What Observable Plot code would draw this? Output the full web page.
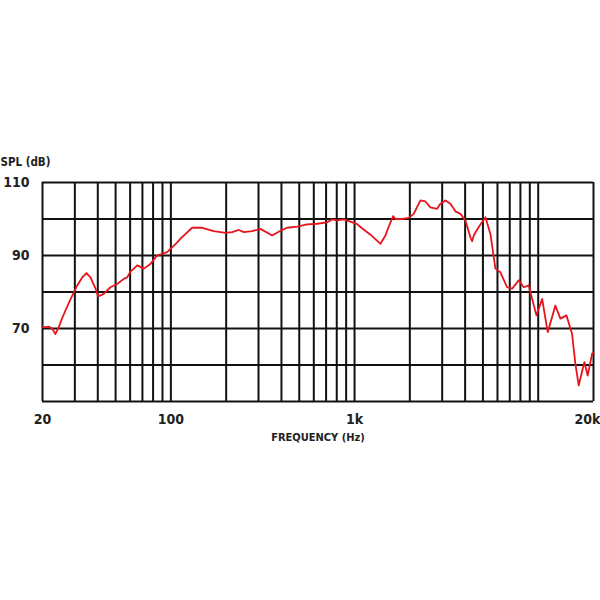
<!DOCTYPE html>
<html><head><meta charset="utf-8">
<script src="https://cdn.jsdelivr.net/npm/d3@7"></script>
<script src="https://cdn.jsdelivr.net/npm/@observablehq/plot@0.6"></script>
<style>body{margin:0;background:#fff}</style>
</head><body><div id="chart"></div>
<script>
const freq = [20, 21.7, 22.6, 23.5, 24.5, 25.3, 26.7, 28.4, 30.9, 32.9, 34.7, 36.5, 38.9, 40.2, 43.1, 46.9, 51.0, 55.4, 57.8, 60.3, 65.6, 71.2, 77.4, 84.2, 95.5, 99.5, 108.3, 112.8, 130.6, 148.1, 171.2, 198.3, 215.7, 234.3, 249.4, 277, 307.5, 356.1, 395.1, 429.7, 487.1, 552.1, 626, 709.5, 755.2, 804, 873.4, 950, 1033, 1077, 1221, 1384, 1473, 1569, 1622, 1670, 1816, 1972, 2099, 2284, 2431, 2589, 2816, 2935, 3125, 3327, 3542, 3772, 4016, 4275, 4368, 4456, 4745, 5159, 5493, 5848, 6226, 6772, 7211, 7831, 8337, 8877, 9778, 10504, 11265, 12404, 13207, 14240, 15290, 15937, 16612, 17843, 18596, 19652, 20000];
const spl = [70.3, 70.5, 69.9, 68.5, 70.3, 72.2, 75, 78, 81.8, 84, 85.2, 84, 80.9, 78.8, 79.5, 81.3, 82.2, 83.6, 84, 85.6, 87.3, 86.4, 87.7, 90, 90.9, 91.8, 93.6, 94.6, 97.6, 97.6, 96.7, 96.2, 96.4, 97, 96.4, 96.7, 97.3, 95.5, 96.8, 97.6, 97.9, 98.5, 98.7, 99.1, 99.9, 99.6, 99.9, 99.3, 98.6, 97.8, 95.7, 93.2, 95.5, 99.1, 100.8, 100, 100, 100.3, 101.4, 105.1, 104.8, 103.2, 102.8, 104.2, 105.1, 104.2, 102.1, 101.4, 99.6, 95, 93.9, 95.5, 97.8, 100.5, 95.9, 86.4, 85.4, 81.3, 80.9, 83.2, 81.3, 81.8, 73.6, 78.1, 69, 76.3, 72.7, 73.6, 68.5, 60.3, 54.4, 60.8, 57.1, 63.1, 63.5];
const xGrid = [20, 30, 40, 50, 60, 70, 80, 90, 100, 200, 300, 400, 500, 600, 700, 800, 900, 1000, 2000, 3000, 4000, 5000, 6000, 7000, 8000, 9000, 10000, 20000];
const yGrid = [50, 60, 70, 80, 90, 100, 110];
const xTicks = [20, 100, 1000];
const xTickEnd = [20000];
const yTicks = [70, 90, 110];
const xTitle = ["FREQUENCY (Hz)"];
const yTitle = ["SPL (dB)"];

const data = freq.map((f, i) => ({f, db: spl[i]}));
const font = "'DejaVu Sans Condensed','Liberation Sans Narrow',sans-serif";
const fmt = d => d >= 1000 ? (d / 1000) + "k" : String(d);

const chart = Plot.plot({
  width: 600, height: 600,
  marginTop: 182, marginBottom: 199, marginLeft: 42, marginRight: 7,
  style: {fontFamily: font, fontSize: "14px", fontWeight: "bold", color: "#222", background: "#fff"},
  x: {type: "log", domain: [20, 20000]},
  y: {domain: [50, 110]},
  marks: [
    Plot.ruleX(xGrid, {stroke: "#111", strokeWidth: 2}),
    Plot.ruleY(yGrid, {stroke: "#111", strokeWidth: 2}),
    Plot.line(data, {x: "f", y: "db", stroke: "#e8141c", strokeWidth: 1.8}),
    Plot.axisX(xTicks, {tickSize: 0, tickPadding: 13, tickFormat: fmt, label: null, fontSize: 14}),
    Plot.axisX(xTickEnd, {tickSize: 0, tickPadding: 13, tickFormat: fmt, label: null, fontSize: 14, textAnchor: "end", dx: 7}),
    Plot.axisY(yTicks, {tickSize: 0, tickPadding: 13, label: null, fontSize: 14}),
    Plot.text(xTitle, {frameAnchor: "bottom", dy: 39, fontSize: 11, fontWeight: "bold", fill: "#222"}),
    Plot.text(yTitle, {frameAnchor: "top-left", dx: -42, dy: -25, textAnchor: "start", fontSize: 11.5, fontWeight: "bold", fill: "#222"})
  ]
});
document.getElementById("chart").append(chart);
</script>
</body></html>
